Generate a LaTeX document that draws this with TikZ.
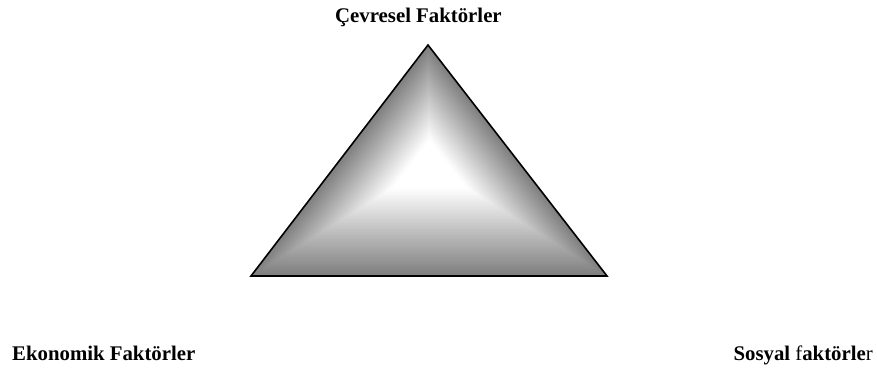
\documentclass[tikz,border=0pt]{standalone}
\usepackage{fontspec}
\setmainfont{Liberation Serif}
\usetikzlibrary{calc}
\begin{document}
\begin{tikzpicture}[x=1pt,y=1pt,
  lbl/.style={inner sep=0pt, font=\fontsize{20.8}{25}\selectfont\bfseries},
  edge/.style={line width=1.6pt, line join=miter, draw=black}]
\useasboundingbox (0,0) rectangle (877,369);
\coordinate (A) at (428,324);
\coordinate (B) at (251,93);
\coordinate (C) at (607,93);
\coordinate (P) at (430,204);
\foreach \i in {0,...,47}{
  \pgfmathsetmacro\tv{1-\i/48}
  \pgfmathsetmacro\pv{max(0,(\tv-0.22)/0.78)*50}
  \fill[black!\pv] ($(P)!\tv!(A)$) -- ($(P)!\tv!(B)$) -- ($(P)!\tv!(C)$) -- cycle;
}
\draw[edge] (A) -- (B) -- (C) -- cycle;
\node[lbl, anchor=base west] (cev) at (335,346) {Çevresel Faktörler};
\node[lbl, anchor=base west] (eko) at (12,9) {Ekonomik Faktörler};
\node[lbl, anchor=base east] (sos) at (873,9) {Sosyal \textmd{f}aktörle\textmd{r}};
\end{tikzpicture}
\end{document}
